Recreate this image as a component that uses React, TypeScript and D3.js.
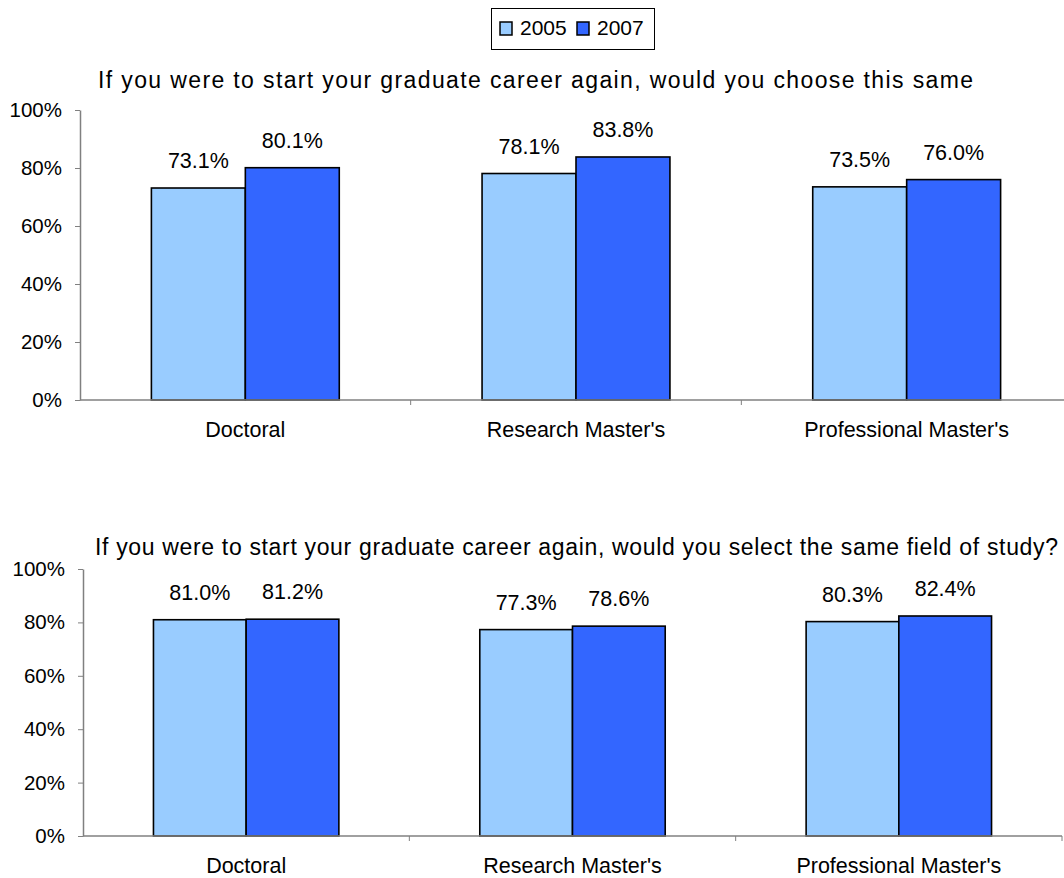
import React, { useEffect, useRef } from "react";
import * as d3 from "d3";

const categories = ["Doctoral", "Research Master's", "Professional Master's"];
const seriesNames = ["2005", "2007"];
const chooseProgram2005 = [73.1, 78.1, 73.5];
const chooseProgram2007 = [80.1, 83.8, 76.0];
const sameField2005 = [81.0, 77.3, 80.3];
const sameField2007 = [81.2, 78.6, 82.4];
const yTicks = [0, 20, 40, 60, 80, 100];
const titleTop = "If you were to start your graduate career again, would you choose this same";
const titleBottom = "If you were to start your graduate career again, would you select the same field of study?";

const colors = ["#99CCFF", "#3366FF"];
const FONT = "'Liberation Sans', Arial, sans-serif";

type Panel = {
  title: string;
  titleX: [number, number];
  titleY: number;
  left: number;
  right: number;
  top: number;
  bottom: number;
  values: number[][];
};

const App: React.FC = () => {
  const svgRef = useRef<SVGSVGElement>(null);
  const width = 1064;
  const height = 878;

  useEffect(() => {
    const svg = d3.select(svgRef.current);
    svg.selectAll("*").remove();

    const panels: Panel[] = [
      {
        title: titleTop,
        titleX: [98, 973],
        titleY: 88,
        left: 80,
        right: 1072,
        top: 110,
        bottom: 400,
        values: [chooseProgram2005, chooseProgram2007],
      },
      {
        title: titleBottom,
        titleX: [95, 1058],
        titleY: 555,
        left: 83,
        right: 1062,
        top: 569,
        bottom: 836,
        values: [sameField2005, sameField2007],
      },
    ];

    panels.forEach((p) => {
      const g = svg.append("g");
      const x0 = d3.scaleBand<string>().domain(categories).range([p.left, p.right]);
      const x1 = d3.scaleBand<string>()
        .domain(seriesNames)
        .range([0, x0.bandwidth()])
        .paddingInner(0)
        .paddingOuter(0.76);
      const y = d3.scaleLinear().domain([0, 100]).range([p.bottom, p.top]);

      // title
      g.append("text")
        .attr("x", p.titleX[0])
        .attr("y", p.titleY)
        .attr("textLength", p.titleX[1] - p.titleX[0])
        .attr("lengthAdjust", "spacing")
        .attr("font-family", FONT)
        .attr("font-size", 23)
        .attr("fill", "#000")
        .text(p.title);

      // y axis
      const yAxis = g.append("g")
        .attr("transform", `translate(${p.left},0)`)
        .call(
          d3.axisLeft(y)
            .tickValues(yTicks)
            .tickFormat((d) => `${d}%`)
            .tickSize(5)
            .tickSizeOuter(0)
            .tickPadding(13)
        );
      yAxis.select(".domain").attr("stroke", "#808080").attr("stroke-width", 1.5);
      yAxis.selectAll(".tick line").attr("stroke", "#808080");
      yAxis.selectAll(".tick text")
        .attr("font-family", FONT)
        .attr("font-size", 20.5)
        .attr("fill", "#000");

      // bars
      seriesNames.forEach((s, si) => {
        g.append("g")
          .selectAll("rect")
          .data(categories)
          .join("rect")
          .attr("x", (c) => x0(c)! + x1(s)!)
          .attr("y", (_c, i) => y(p.values[si][i]))
          .attr("width", x1.bandwidth())
          .attr("height", (_c, i) => p.bottom - y(p.values[si][i]))
          .attr("fill", colors[si])
          .attr("stroke", "#000")
          .attr("stroke-width", 1.6);

        g.append("g")
          .selectAll("text")
          .data(categories)
          .join("text")
          .attr("x", (c) => x0(c)! + x1(s)! + x1.bandwidth() / 2)
          .attr("y", (_c, i) => y(p.values[si][i]) - 20)
          .attr("text-anchor", "middle")
          .attr("font-family", FONT)
          .attr("font-size", 21.5)
          .attr("fill", "#000")
          .text((_c, i) => `${p.values[si][i].toFixed(1)}%`);
      });

      // x axis
      g.append("line")
        .attr("x1", p.left)
        .attr("x2", p.right)
        .attr("y1", p.bottom)
        .attr("y2", p.bottom)
        .attr("stroke", "#808080")
        .attr("stroke-width", 1.5);

      const bounds = categories.map((c) => x0(c)!).slice(1).concat([p.right]);
      g.append("g")
        .selectAll("line")
        .data(bounds)
        .join("line")
        .attr("x1", (d) => d)
        .attr("x2", (d) => d)
        .attr("y1", p.bottom)
        .attr("y2", p.bottom + 5)
        .attr("stroke", "#808080");

      g.append("g")
        .selectAll("text")
        .data(categories)
        .join("text")
        .attr("x", (c) => x0(c)! + x0.bandwidth() / 2)
        .attr("y", p.bottom + 37)
        .attr("text-anchor", "middle")
        .attr("font-family", FONT)
        .attr("font-size", 21.5)
        .attr("fill", "#000")
        .text((c) => c);
    });

    // legend
    const legend = svg.append("g");
    legend.append("rect")
      .attr("x", 491.5)
      .attr("y", 8.5)
      .attr("width", 163)
      .attr("height", 41)
      .attr("fill", "#fff")
      .attr("stroke", "#000")
      .attr("stroke-width", 1);
    const legendX = [500, 577];
    seriesNames.forEach((s, i) => {
      legend.append("rect")
        .attr("x", legendX[i])
        .attr("y", 22)
        .attr("width", 12)
        .attr("height", 13)
        .attr("fill", colors[i])
        .attr("stroke", "#000")
        .attr("stroke-width", 1.5);
      legend.append("text")
        .attr("x", legendX[i] + 20)
        .attr("y", 35)
        .attr("font-family", FONT)
        .attr("font-size", 21)
        .attr("fill", "#000")
        .text(s);
    });
  }, []);

  return (
    <svg
      ref={svgRef}
      width={width}
      height={height}
      viewBox={`0 0 ${width} ${height}`}
      style={{ position: "absolute", left: 0, top: 0, background: "#fff" }}
    ></svg>
  );
};

export default App;
